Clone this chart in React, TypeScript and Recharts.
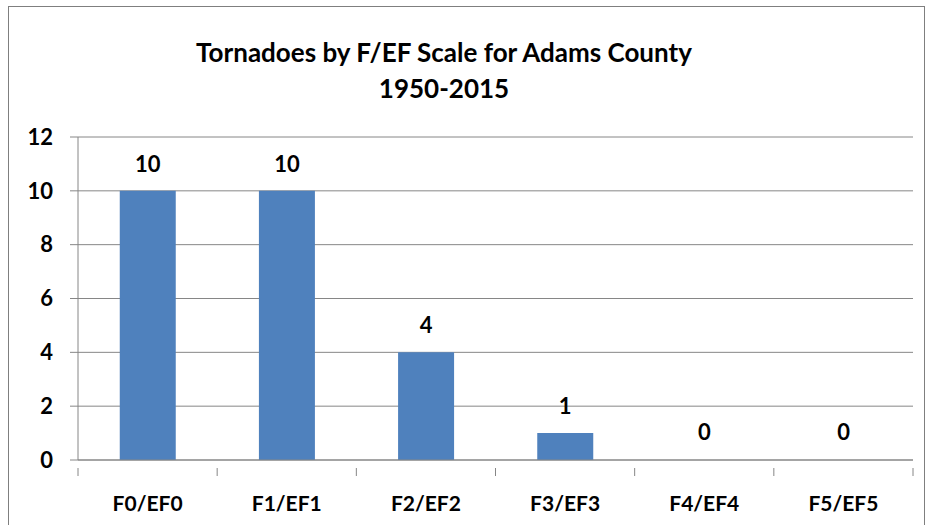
import { BarChart, Bar, XAxis, YAxis, CartesianGrid, LabelList, Rectangle } from 'recharts'

const scales = ['F0/EF0', 'F1/EF1', 'F2/EF2', 'F3/EF3', 'F4/EF4', 'F5/EF5']
const counts = [10, 10, 4, 1, 0, 0]
const yTicks = [0, 2, 4, 6, 8, 10, 12]

const titleLines = ['Tornadoes by F/EF Scale for Adams County', '1950-2015']

const data = scales.map((scale, i) => ({ scale, count: counts[i] }))

const FONT = 'Lato, "Open Sans", sans-serif'
const AXIS_GRAY = '#868686'

const W = 929
const H = 525
const margin = { top: 137, right: 16, left: 0, bottom: 35 }
const yAxisWidth = 78
const band = (W - margin.left - margin.right - yAxisWidth) / scales.length

function CategoryTick(props: any) {
  const { x, y, payload, index } = props
  const left = x - band / 2
  const right = x + band / 2
  return (
    <g>
      <line x1={left} y1={y} x2={left} y2={y + 8} stroke={AXIS_GRAY} />
      {index === scales.length - 1 && (
        <line x1={right} y1={y} x2={right} y2={y + 8} stroke={AXIS_GRAY} />
      )}
      <text
        x={x}
        y={y + 43}
        textAnchor="middle"
        fontFamily={FONT}
        fontWeight="bold"
        fontSize={21}
        fill="#000"
      >
        {payload.value}
      </text>
    </g>
  )
}

// zero bars keep a 1px stub (minPointSize) so the label is placed, but the stub isn't drawn
function BarShape(props: any) {
  if (!props.count) return <g />
  return <Rectangle {...props} />
}

function ValueLabel(props: any) {
  const { x, y, width, value } = props
  return (
    <text
      x={x + width / 2}
      y={y - 19}
      textAnchor="middle"
      fontFamily={FONT}
      fontWeight="bold"
      fontSize={22}
      fill="#000"
    >
      {value}
    </text>
  )
}

export default function App() {
  return (
    <div style={{ position: 'absolute', left: 0, top: 0, width: W, height: H, background: '#fff', overflow: 'hidden' }}>
      <div
        style={{
          position: 'absolute',
          left: 8,
          top: 6,
          width: 917,
          height: 530,
          border: '1.5px solid #7f7f7f',
          boxSizing: 'border-box',
        }}
      />
      <BarChart width={W} height={H} data={data} margin={margin} barCategoryGap="30%" style={{ position: 'absolute', left: 0, top: 0 }}>
        <CartesianGrid vertical={false} stroke={AXIS_GRAY} strokeWidth={1} />
        <XAxis
          dataKey="scale"
          tickLine={false}
          axisLine={{ stroke: AXIS_GRAY }}
          tick={<CategoryTick />}
          interval={0}
        />
        <YAxis
          width={yAxisWidth}
          domain={[0, 12]}
          ticks={yTicks}
          interval={0}
          tickSize={8}
          tickMargin={17}
          tickLine={{ stroke: AXIS_GRAY }}
          axisLine={{ stroke: AXIS_GRAY }}
          tick={{ fontFamily: FONT, fontWeight: 'bold', fontSize: 22, fill: '#000' }}
        />
        <Bar dataKey="count" fill="#4F81BD" minPointSize={1} shape={<BarShape />} isAnimationActive={false}>
          <LabelList dataKey="count" content={<ValueLabel />} />
        </Bar>
      </BarChart>
      <svg width={W} height={120} style={{ position: 'absolute', left: 0, top: 0 }}>
        {titleLines.map((t, i) => (
          <text
            key={t}
            x={444}
            y={62 + i * 36}
            textAnchor="middle"
            fontFamily={FONT}
            fontWeight="bold"
            fontSize={26}
            fill="#000"
          >
            {t}
          </text>
        ))}
      </svg>
    </div>
  )
}
